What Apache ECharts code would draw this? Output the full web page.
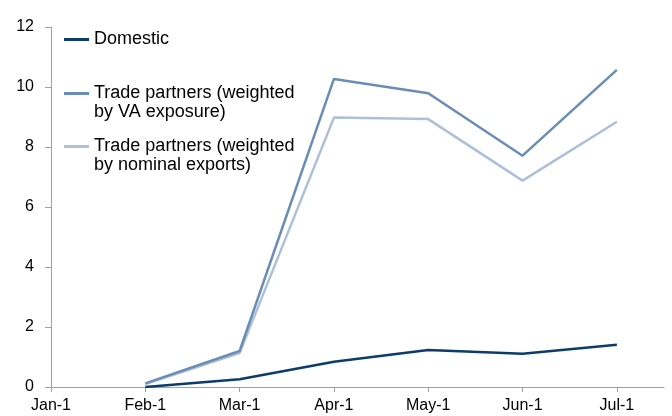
<!DOCTYPE html>
<html>
<head>
<meta charset="utf-8">
<script src="https://cdn.jsdelivr.net/npm/echarts@6/dist/echarts.min.js"></script>
<style>html,body{margin:0;padding:0;background:#fff}#c{width:672px;height:416px}</style>
</head>
<body>
<div id="c"></div>
<script>
var months = ['Jan-1','Feb-1','Mar-1','Apr-1','May-1','Jun-1','Jul-1'];
var yTicks = [0,2,4,6,8,10,12];
var domestic = [null, 0.0, 0.26, 0.84, 1.23, 1.11, 1.41];
var tradeVA = [null, 0.12, 1.2, 10.27, 9.79, 7.71, 10.57];
var tradeNominal = [null, 0.1, 1.13, 8.98, 8.93, 6.88, 8.84];
var names = ['Domestic', 'Trade partners (weighted\nby VA exposure)', 'Trade partners (weighted\nby nominal exports)'];
var colors = ['#0b3c6a', '#6a8db6', '#adc0d8'];

function pts(arr){
  var out = [];
  arr.forEach(function(v,i){ if(v!==null) out.push([i,v]); });
  return out;
}
var idx = months.map(function(m,i){return i;});
var font = 'Liberation Sans, Arial, sans-serif';
function legend(name, top, twoLine){
  return {
    data:[name], left:64, top:top, padding:0,
    itemWidth:25, itemHeight:3, icon:'rect',
    formatter: twoLine ? function(n){ return ' \n' + n; } : undefined,
    textStyle:{fontSize:18, color:'#000', fontFamily:font, lineHeight:19}
  };
}
var chart = echarts.init(document.getElementById('c'));
chart.setOption({
  animation:false,
  backgroundColor:'#fff',
  grid:{left:51, right:8, top:27, bottom:29, containLabel:false},
  legend:[legend(names[0], 30, false), legend(names[1], 65, true), legend(names[2], 118, true)],
  xAxis:{
    type:'value', min:0, max:6.5,
    axisLine:{show:true, lineStyle:{color:'#a0a0a0', width:1}},
    axisTick:{show:true, length:5, customValues:idx, lineStyle:{color:'#a0a0a0'}},
    axisLabel:{customValues:idx, margin:11, fontSize:16, color:'#000', fontFamily:font,
      formatter:function(v){return months[Math.round(v)];}},
    splitLine:{show:false}
  },
  yAxis:{
    type:'value', min:0, max:12, interval:2,
    axisLine:{show:true, lineStyle:{color:'#a0a0a0', width:1}},
    axisTick:{show:true, length:6, lineStyle:{color:'#a0a0a0'}},
    axisLabel:{margin:17, fontSize:16, color:'#000', fontFamily:font,
      customValues:yTicks},
    splitLine:{show:false}
  },
  series:[
    {name:names[2], type:'line', data:pts(tradeNominal), symbol:'none', lineStyle:{color:colors[2], width:2.5}, itemStyle:{color:colors[2]}, z:2},
    {name:names[1], type:'line', data:pts(tradeVA), symbol:'none', lineStyle:{color:colors[1], width:2.5}, itemStyle:{color:colors[1]}, z:3},
    {name:names[0], type:'line', data:pts(domestic), symbol:'none', lineStyle:{color:colors[0], width:2.5}, itemStyle:{color:colors[0]}, z:4}
  ]
});
</script>
</body>
</html>
